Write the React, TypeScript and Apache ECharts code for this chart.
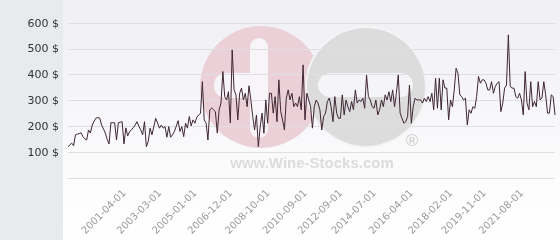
import React, { useEffect, useRef } from 'react';
import * as echarts from 'echarts';

// Prices (USD), in order, left to right
const pricesEarly = [
  121, 128, 135, 125, 167, 170, 172, 175, 160, 152,
  147, 186, 174, 205, 220, 232, 234, 232, 205, 190,
  174, 150, 132, 214, 214, 214, 147, 214, 216, 218,
  132, 194, 163, 180, 186, 195, 205, 218, 200, 186,
  167, 218, 121, 141, 193, 167, 199, 231, 213, 193,
  205, 193, 199, 158, 199, 158, 167, 180, 200, 222,
  180, 199, 160, 212, 193, 238, 202, 225, 212, 235,
  244, 250,
];
const pricesMiddle = [
  373, 225, 213, 147, 264, 271, 264, 257, 174, 264,
  290, 412, 315, 302, 334, 213, 496, 341, 322, 225,
  328, 348, 302, 328, 276, 357, 302, 238, 186, 244,
  121, 199, 251, 173, 302, 212, 328, 328, 251, 315,
  218, 380, 257, 225, 186, 309, 341, 302, 328, 276,
  290, 276, 315, 264, 438, 225, 328, 302, 276, 193,
  276, 302, 290, 264, 186, 238, 251, 296, 309, 276,
  218, 315, 251, 231, 231, 322, 244, 302, 276, 257,
  296, 264, 341, 290, 302, 296,
];
const pricesLate = [
  309, 270, 399, 315, 302, 276, 270, 302, 244, 264,
  302, 276, 322, 302, 334, 296, 341, 276, 328, 399,
  251, 231, 212, 218, 238, 360, 212, 276, 309, 302,
  302, 302, 290, 309, 296, 315, 296, 328, 264, 386,
  270, 386, 264, 380, 348, 348, 225, 302, 276, 341,
  425, 405, 322, 315, 302, 309, 205, 264, 251, 276,
  270, 315, 393, 367, 380, 380, 367, 341, 341, 373,
  328, 354, 367, 373, 257, 290, 348, 360, 554, 354,
  348, 348, 315, 309, 328, 302, 244, 412, 290, 264,
  373, 276, 296, 276, 373, 302, 309, 373, 322, 251,
  251, 322, 315, 244,
];

const tickLabels = [
  '2001-04-01', '2003-03-01', '2005-01-01', '2006-12-01', '2008-10-01', '2010-09-01',
  '2012-09-01', '2014-07-01', '2016-04-01', '2018-02-01', '2019-11-01', '2021-08-01',
];
const tickIndices = [30, 49, 68, 87, 107, 127, 146, 164, 184, 205, 223, 243];

const yTicks = [0, 100, 200, 300, 400, 500, 600];

const prices = [...pricesEarly, ...pricesMiddle, ...pricesLate];
const categories = prices.map((_, i) => {
  const k = tickIndices.indexOf(i);
  return k >= 0 ? tickLabels[k] : `p${i}`;
});

export default function App() {
  const ref = useRef<HTMLDivElement>(null);
  useEffect(() => {
    if (!ref.current) return;
    const chart = echarts.init(ref.current, undefined, { renderer: 'svg' });
    chart.setOption({
      animation: false,
      graphic: [
        {
          type: 'rect', z: -100, silent: true,
          shape: { x: 63, y: 0, width: 497, height: 240 },
          style: {
            fill: new echarts.graphic.LinearGradient(0, 0, 0, 1, [
              { offset: 0, color: '#efeff4' },
              { offset: 0.75, color: '#fcfcfd' },
              { offset: 1, color: '#ffffff' },
            ]),
          },
        },
        {
          type: 'rect', z: -100, silent: true,
          shape: { x: 0, y: 0, width: 63, height: 240 },
          style: { fill: '#e7ebee' },
        },
        {
          type: 'circle', z: -90, silent: true,
          shape: { cx: 261, cy: 87, r: 61 },
          style: { fill: '#ebd0d7' },
        },
        {
          type: 'circle', z: -89, silent: true,
          shape: { cx: 366, cy: 87, r: 60 },
          style: { fill: '#dcdcdc', stroke: '#f4f4f6', lineWidth: 2 },
        },
        {
          type: 'rect', z: -88, silent: true,
          shape: { x: 250, y: 38, width: 18, height: 100, r: 9 },
          style: { fill: '#f7f5f7' },
        },
        {
          type: 'rect', z: -88, silent: true,
          shape: { x: 214, y: 73, width: 54, height: 25, r: 12 },
          style: { fill: '#f7f5f7' },
        },
        {
          type: 'rect', z: -88, silent: true,
          shape: { x: 318, y: 73, width: 95, height: 24, r: 12 },
          style: { fill: '#f5f5f7' },
        },
        {
          type: 'text', z: -88, silent: true,
          x: 412, y: 140,
          style: {
            text: '®', fill: '#d4d4d4', fontSize: 17, fontWeight: 'bold',
            fontFamily: 'Liberation Sans', align: 'center', verticalAlign: 'middle',
          },
        },
        {
          type: 'text', z: -88, silent: true,
          x: 312, y: 162,
          style: {
            text: 'www.Wine-Stocks.com', fill: '#dcdcdc', fontSize: 15, fontWeight: 'bold',
            fontFamily: 'Liberation Sans', align: 'center', verticalAlign: 'middle',
          },
        },
      ],
      grid: { left: 68, right: 5, top: 23, bottom: 62, containLabel: false },
      xAxis: {
        type: 'category',
        data: categories,
        boundaryGap: false,
        axisLine: { show: false },
        axisTick: { show: false },
        splitLine: { show: false },
        axisLabel: {
          interval: (index: number) => tickIndices.indexOf(index) >= 0,
          rotate: 45,
          margin: 13,
          color: '#9a9a9a',
          fontSize: 10,
          fontFamily: 'DejaVu Sans',
        },
      },
      yAxis: {
        type: 'value',
        min: yTicks[0],
        max: yTicks[yTicks.length - 1],
        interval: 100,
        axisLine: { show: false },
        axisTick: { show: false },
        splitLine: { lineStyle: { color: '#dedee3', width: 1 } },
        axisLabel: {
          margin: 9,
          color: '#333333',
          fontSize: 11,
          fontFamily: 'DejaVu Sans',
          formatter: (v: number) => (v === 0 ? '' : `${v} $`),
        },
      },
      series: [
        {
          type: 'line',
          data: prices,
          symbol: 'none',
          lineStyle: { color: '#3f2633', width: 1 },
          z: 5,
        },
      ],
    });
    return () => chart.dispose();
  }, []);
  return (
    <div
      ref={ref}
      style={{ position: 'fixed', left: 0, top: 0, width: 560, height: 240 }}
    />
  );
}
